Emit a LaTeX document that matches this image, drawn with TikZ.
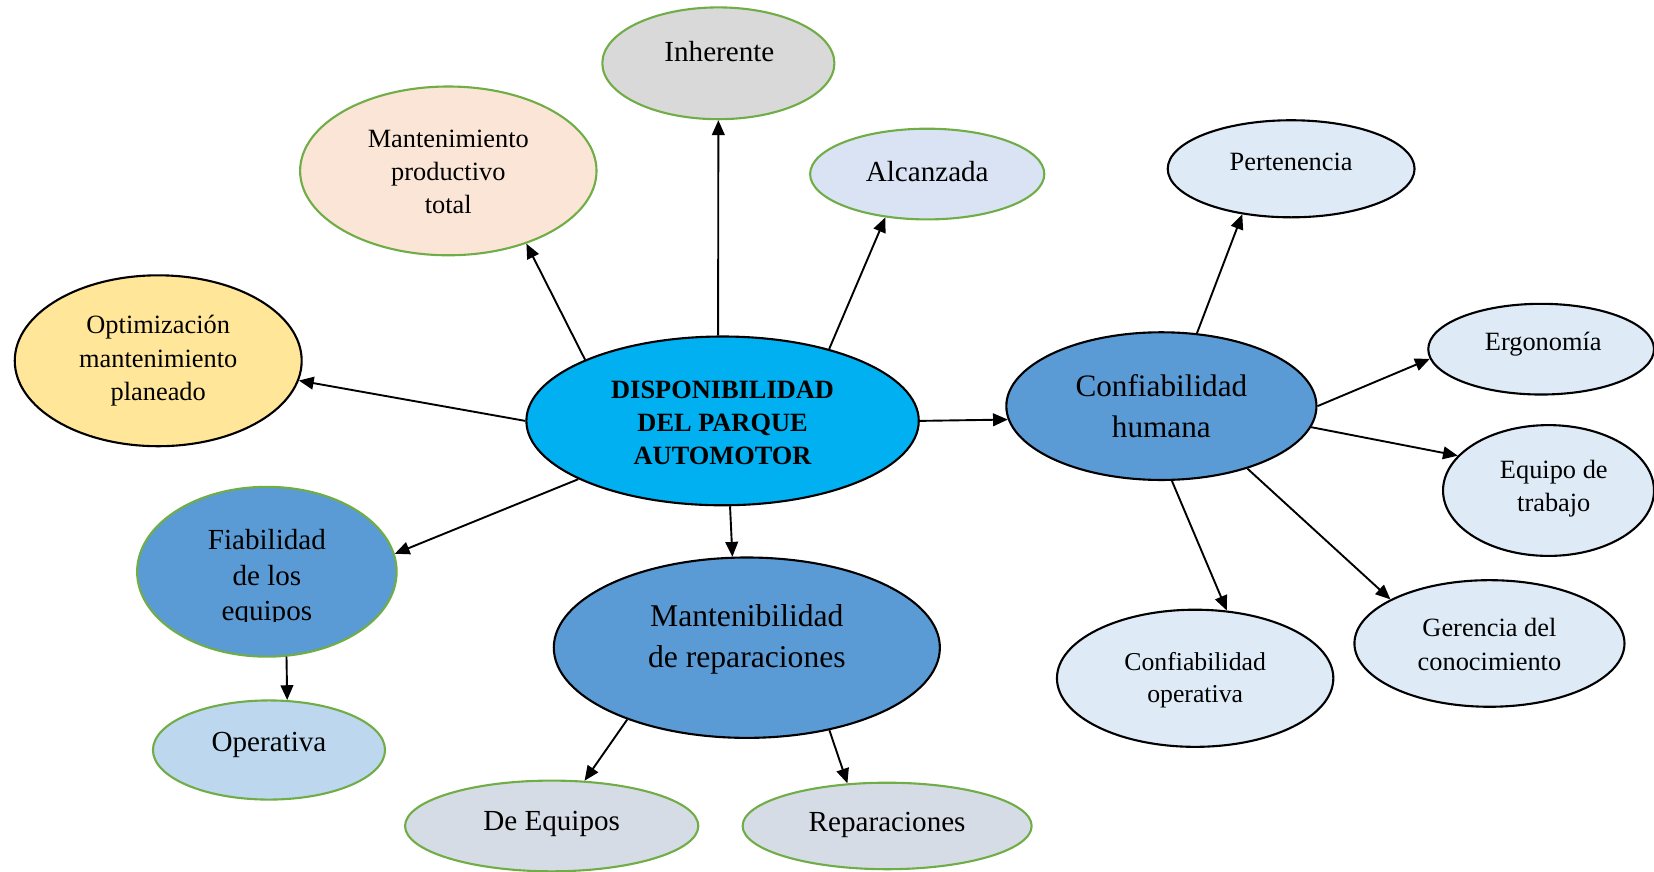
\documentclass[tikz,border=0pt]{standalone}
\usepackage{fontspec}
\setmainfont{Liberation Serif}
\usetikzlibrary{shapes.geometric,arrows.meta}

\definecolor{leafgreen}{HTML}{70AD47}
\definecolor{greyfill}{HTML}{D9D9D9}
\definecolor{peach}{HTML}{FBE5D6}
\definecolor{paleblue}{HTML}{DAE3F3}
\definecolor{iceblue}{HTML}{DEEBF7}
\definecolor{sand}{HTML}{FFE699}
\definecolor{cyanhub}{HTML}{00B0F0}
\definecolor{midblue}{HTML}{5B9BD5}
\definecolor{skyblue}{HTML}{BDD7EE}
\definecolor{slate}{HTML}{D6DCE5}

\begin{document}
\begin{tikzpicture}[x=0.5pt,y=-0.5pt,
  bub/.style={ellipse, line width=1pt, inner sep=0pt},
  gb/.style={bub, draw=leafgreen},
  kb/.style={bub, draw=black},
  % sizes are given in picture units (0.5pt each)
  dims/.style 2 args={minimum width={#1*0.5pt}, minimum height={#2*0.5pt}},
  txt/.style 2 args={inner sep=0pt, align=center, text=black,
    font=\fontsize{#1}{#2}\selectfont},
  conn/.style={-{Triangle[length=7pt,width=6pt]}, line width=0.9pt, black}
]
\useasboundingbox (0,0) rectangle (1568,826);

% ---- bubbles ----
\node[gb, fill=greyfill, dims={220}{106}] (inh) at (681,60) {};
\node[gb, fill=peach, dims={281}{160}] (mpt) at (425,162) {};
\node[gb, fill=paleblue, dims={222}{86}] (alc) at (879,165) {};
\node[kb, fill=iceblue, dims={234}{92}] (per) at (1224,160) {};
\node[kb, fill=sand, dims={272}{162}] (opt) at (150,342) {};
\node[kb, fill=cyanhub, dims={372}{160}] (hub) at (685,399) {};
\node[kb, fill=midblue, dims={294}{140}] (hum) at (1101,385) {};
\node[kb, fill=iceblue, dims={214}{86}] (erg) at (1461,331) {};
\node[kb, fill=iceblue, dims={200}{124}] (equ) at (1468,465) {};
\node[gb, fill=midblue, dims={246}{161}] (fia) at (253,542) {};
\node[kb, fill=midblue, dims={366}{171}] (man) at (708,614) {};
\node[gb, fill=skyblue, dims={220}{94}] (ope) at (255,711) {};
\node[gb, fill=slate, dims={278}{86}] (deq) at (523,783) {};
\node[gb, fill=slate, dims={274}{82}] (rep) at (841,783) {};
\node[kb, fill=iceblue, dims={262}{130}] (cop) at (1133,643) {};
\node[kb, fill=iceblue, dims={256}{120}] (ger) at (1412,610) {};

% ---- labels ----
\node[txt={13.8}{16.75}] (t-inh) at (682,49) {Inherente};
\node[txt={12.5}{15.75}] (t-mpt) at (425,163) {Mantenimiento\\productivo\\total};
\node[txt={13.8}{16.75}] (t-alc) at (879,163) {Alcanzada};
\node[txt={12.5}{15.5}] (t-per) at (1224,153) {Pertenencia};
\node[txt={12.5}{15.75}] (t-opt) at (150,342) {Optimización\\mantenimiento\\planeado};
\node[txt={12.5}{15.75}, font=\fontsize{12.5}{15.75}\selectfont\bfseries] (t-hub) at (685,401)
  {DISPONIBILIDAD\\DEL PARQUE\\AUTOMOTOR};
\node[txt={14.8}{19}] (t-hum) at (1101,385) {Confiabilidad\\humana};
\node[txt={12.5}{15.5}] (t-erg) at (1463,326) {Ergonomía};
\node[txt={12.5}{15.5}] (t-equ) at (1473,463) {Equipo de\\trabajo};
\begin{scope}
  \clip (130,455) rectangle (377,589);
  \node[txt={13.8}{16.75}] (t-fia) at (253,548) {Fiabilidad\\de los\\equipos};
\end{scope}
\node[txt={15}{19.5}] (t-man) at (708,606) {Mantenibilidad\\de reparaciones};
\node[txt={13.8}{16.75}] (t-ope) at (255,706) {Operativa};
\node[txt={13.8}{16.75}] (t-deq) at (523,781) {De Equipos};
\node[txt={13.8}{16.75}] (t-rep) at (841,782) {Reparaciones};
\node[txt={12.2}{15}] (t-cop) at (1133,645) {Confiabilidad\\operativa};
\node[txt={12.5}{16}] (t-ger) at (1412,611) {Gerencia del\\conocimiento};

% ---- connectors ----
\draw[conn] (hub.93)  -- (inh.270);
\draw[conn] (hub.156) -- (mpt.317);
\draw[conn] (hub.34)  -- (alc.226);
\draw[conn] (hub.180) -- (opt.352);
\draw[conn] (hub.0)   -- (hum.185);
\draw[conn] (hub.202) -- (fia.8);
\draw[conn] (hub.275) -- (man.99);
\draw[conn] (fia.283) -- (ope.70);
\draw[conn] (man.211) -- (deq.54);
\draw[conn] (man.315) -- (rep.133);
\draw[conn] (hum.64)  -- (per.223);
\draw[conn] (hum.0)   -- (erg.185);
\draw[conn] (hum.352) -- (equ.159);
\draw[conn] (hum.278) -- (cop.65);
\draw[conn] (hum.324) -- (ger.156);
\end{tikzpicture}
\end{document}
